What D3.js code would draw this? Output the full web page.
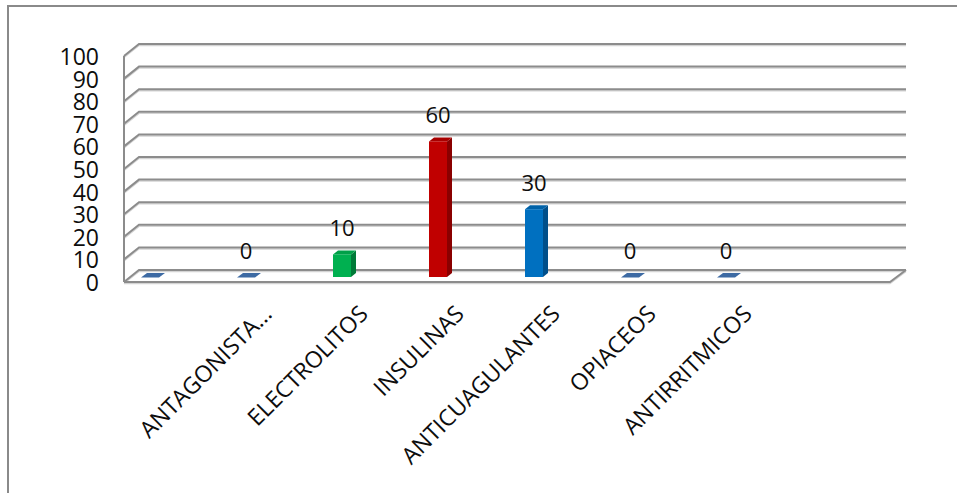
<!DOCTYPE html>
<html>
<head>
<meta charset="utf-8">
<script src="https://cdn.jsdelivr.net/npm/d3@7"></script>
<style>
  html, body { margin: 0; padding: 0; background: #fff; }
  svg { display: block; }
  text { font-family: "Open Sans", "Noto Sans", sans-serif; fill: #0d0d0d; }
</style>
</head>
<body>
<svg id="chart" width="957" height="493"></svg>
<script>
// Drug groups (first and last slots are empty categories)
const categories = ["", "ANTAGONISTA...", "ELECTROLITOS", "INSULINAS", "ANTICUAGULANTES", "OPIACEOS", "ANTIRRITMICOS", ""];
const values = [0, 0, 10, 60, 30, 0, 0, null];
const showLabel = [false, true, true, true, true, true, true, false];
const barColors = ["#3d6aa3", "#3d6aa3", "#00b050", "#c00000", "#0070c0", "#3d6aa3", "#3d6aa3", "#3d6aa3"];
const sideColors = ["#2f5688", "#2f5688", "#007a38", "#8a0000", "#004f8a", "#2f5688", "#2f5688", "#2f5688"];
const topColors = ["#3d6aa3", "#3d6aa3", "#00a048", "#a80000", "#0062a8", "#3d6aa3", "#3d6aa3", "#3d6aa3"];
const yTicks = [0, 10, 20, 30, 40, 50, 60, 70, 80, 90, 100];

const svg = d3.select("#chart");

// 3D box geometry
const depthX = 15, depthY = 12;
const wallLeft = 139, wallRight = 906;          // back wall
const yBack = d3.scaleLinear().domain([0, 100]).range([270, 44]);
const yFront = v => yBack(v) + depthY;
const yBar = d3.scaleLinear().domain([0, 100]).range([277, 51]);
const x = d3.scaleBand().domain(d3.range(categories.length)).range([101, 869]).paddingInner(0);
const cx = i => x(i) + x.bandwidth() / 2;

const gridColor = "#8c8c8c";
const gridShadow = "#d4d4d4";

// chart frame
svg.append("path")
  .attr("d", "M8,493 L8,6 L957,6")
  .attr("fill", "none").attr("stroke", "#8a8a8a").attr("stroke-width", 2);

const grid = svg.append("g");
// back wall gridlines + side wall diagonals
yTicks.forEach(t => {
  const yb = yBack(t);
  grid.append("path")
    .attr("d", `M${wallLeft - depthX},${yFront(t) + 1.5} L${wallLeft},${yb + 1.5} L${wallRight},${yb + 1.5}`)
    .attr("fill", "none").attr("stroke", gridShadow).attr("stroke-width", 1.5);
  grid.append("path")
    .attr("d", `M${wallLeft - depthX},${yFront(t)} L${wallLeft},${yb} L${wallRight},${yb}`)
    .attr("fill", "none").attr("stroke", gridColor).attr("stroke-width", 2);
});
// floor front edge and right edge
grid.append("path")
  .attr("d", `M${wallLeft - depthX},${yFront(0) + 1.5} L${wallRight - depthX - 1},${yFront(0) + 1.5} L${wallRight},${yBack(0) + 1.5}`)
  .attr("fill", "none").attr("stroke", gridShadow).attr("stroke-width", 1.5);
grid.append("path")
  .attr("d", `M${wallLeft - depthX},${yFront(0)} L${wallRight - depthX - 1},${yFront(0)} L${wallRight},${yBack(0)}`)
  .attr("fill", "none").attr("stroke", gridColor).attr("stroke-width", 2);
// vertical axis line (front-left edge)
grid.append("line")
  .attr("x1", wallLeft - depthX).attr("x2", wallLeft - depthX)
  .attr("y1", yFront(100)).attr("y2", yFront(0))
  .attr("stroke", gridColor).attr("stroke-width", 2);

// y tick labels
svg.append("g").selectAll("text").data(yTicks).join("text")
  .attr("x", 99).attr("y", d => yFront(d))
  .attr("text-anchor", "end").attr("dominant-baseline", "central")
  .attr("font-size", 23)
  .text(d => d);

// columns
const fw = 18, sd = 5, su = 4;
const bars = svg.append("g");
values.forEach((v, i) => {
  if (v === null) return;
  const c = cx(i), y0 = yBar(0), yt = yBar(v);
  const l = c - 8, r = c + 10;
  if (v > 0) {
    bars.append("path")
      .attr("d", `M${r},${y0} L${r},${yt} L${r + sd},${yt - su} L${r + sd},${y0 - su} Z`)
      .attr("fill", sideColors[i]);
    bars.append("path")
      .attr("d", `M${l},${yt} L${r},${yt} L${r + sd},${yt - su} L${l + sd},${yt - su} Z`)
      .attr("fill", topColors[i]);
    bars.append("rect")
      .attr("x", l).attr("y", yt).attr("width", fw).attr("height", y0 - yt)
      .attr("fill", barColors[i]);
  } else {
    bars.append("path")
      .attr("d", `M${l},${y0 + 0.5} L${r},${y0 + 0.5} L${r + sd + 1},${y0 - su} L${l + sd + 1},${y0 - su} Z`)
      .attr("fill", barColors[i]);
  }
  if (showLabel[i]) {
    svg.append("text")
      .attr("x", c + 1).attr("y", yt - 27)
      .attr("text-anchor", "middle").attr("dominant-baseline", "central")
      .attr("font-size", 22)
      .text(v);
  }
});

// rotated category labels
svg.append("g").selectAll("text").data(categories.map((d, i) => ({ d, i })).filter(o => o.d))
  .join("text")
  .attr("transform", o => `translate(${cx(o.i) + 22},${309}) rotate(-45)`)
  .attr("text-anchor", "end").attr("dominant-baseline", "central")
  .attr("font-size", 23)
  .text(o => o.d);
</script>
</body>
</html>
